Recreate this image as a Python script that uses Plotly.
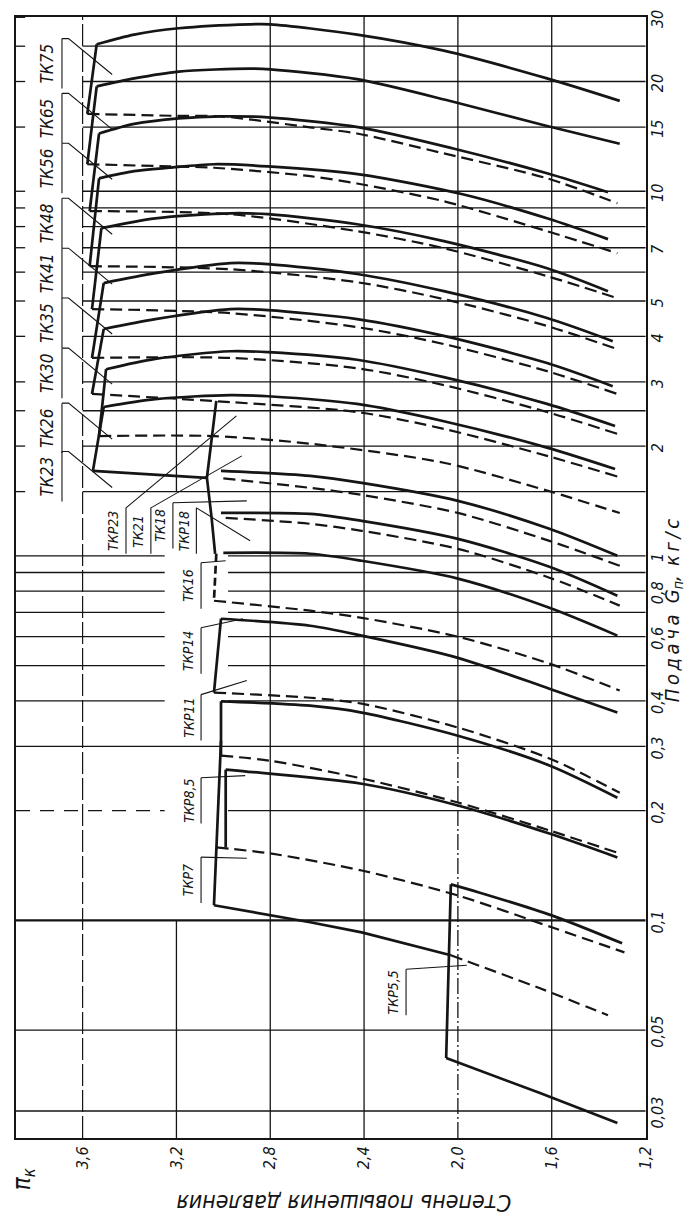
import math
import plotly.graph_objects as go

FONT = "Liberation Sans Narrow, DejaVu Sans Condensed, Liberation Sans, DejaVu Sans, sans-serif"
INK = "#151515"

# ---------------- axes ----------------
PI_RANGE = [3.884, 1.198]
G_LOG_RANGE = [-1.597, 1.478]
G_BOTTOM = 10 ** G_LOG_RANGE[0]
G_TOP = 10 ** G_LOG_RANGE[1]
PI_LEFT = PI_RANGE[0]
PI_RIGHT = 1.2

pi_ticks = [3.6, 3.2, 2.8, 2.4, 2.0, 1.6, 1.2]
pi_ticktext = ["3,6", "3,2", "2,8", "2,4", "2,0", "1,6", "1,2"]
g_ticks = [0.03, 0.05, 0.1, 0.2, 0.3, 0.4, 0.6, 0.8, 1, 2, 3, 4, 5, 7, 10, 15, 20, 30]
g_ticktext = ["0,03", "0,05", "0,1", "0,2", "0,3", "0,4", "0,6", "0,8", "1",
              "2", "3", "4", "5", "7", "10", "15", "20", "30"]

# grid values
grid_upper_g = [25, 20, 15, 10, 9, 8, 7, 6, 5, 4, 3, 2.5, 2, 1.5]
grid_mid_g = [1, 0.9, 0.8, 0.7, 0.6, 0.5, 0.4]
grid_full_g = [0.3, 0.05, 0.03]
grid_main_g = [0.1]
grid_dashed_left_g = [0.2]
grid_pi_full = [2.8, 2.4, 1.6]
grid_pi_mixed = [2.0]

# ---------------- upper families (solid = max-flow line) ----------------
tk75_pi = [3.54, 3.38, 3.19, 2.89, 2.80, 2.43, 2.06, 1.62, 1.31]
tk75_g = [25.3, 26.9, 28.0, 28.7, 28.7, 26.9, 24.3, 20.4, 17.7]
tk65_pi = [3.54, 3.38, 3.19, 2.89, 2.80, 2.43, 2.02, 1.62, 1.31]
tk65_g = [19.4, 20.4, 21.3, 21.7, 21.6, 20.3, 17.6, 15.1, 13.5]
tk56_pi = [3.53, 3.38, 3.19, 3.01, 2.81, 2.42, 2.02, 1.62, 1.36]
tk56_g = [14.4, 15.3, 15.85, 16.05, 15.95, 14.97, 13.1, 11.2, 9.94]
tk48_pi = [3.53, 3.38, 3.23, 3.04, 2.81, 2.42, 1.98, 1.62, 1.36]
tk48_g = [10.85, 11.35, 11.6, 11.86, 11.7, 11.13, 9.81, 8.43, 7.39]
tk41_pi = [3.52, 3.29, 2.97, 2.81, 2.43, 2.06, 1.62, 1.36]
tk41_g = [7.92, 8.43, 8.7, 8.65, 8.12, 7.3, 6.15, 5.32]
tk35_pi = [3.51, 3.29, 2.97, 2.81, 2.43, 2.06, 1.62, 1.34]
tk35_g = [5.6, 5.96, 6.35, 6.31, 5.93, 5.32, 4.49, 3.88]
tk30_pi = [3.51, 3.29, 2.97, 2.81, 2.43, 2.06, 1.62, 1.34]
tk30_g = [4.19, 4.46, 4.75, 4.72, 4.46, 4.01, 3.38, 2.92]
tk26_pi = [3.50, 3.29, 2.97, 2.81, 2.43, 2.06, 1.62, 1.33]
tk26_g = [3.25, 3.47, 3.64, 3.62, 3.45, 3.09, 2.61, 2.27]
tk23_pi = [3.51, 3.29, 2.97, 2.81, 2.43, 2.06, 1.62, 1.33]
tk23_g = [2.56, 2.69, 2.76, 2.74, 2.61, 2.34, 1.98, 1.73]

# upper dashed lines
d75_pi = [3.58, 3.19, 3.01, 2.63, 2.43, 2.06, 1.62, 1.32]
d75_g = [16.3, 16.1, 16.05, 14.97, 14.4, 12.7, 10.85, 9.27]
d65_pi = [3.58, 3.23, 3.04, 2.63, 2.43, 2.06, 1.62, 1.32]
d65_g = [11.86, 11.7, 11.6, 11.0, 10.5, 9.39, 7.77, 6.76]
d56_pi = [3.57, 2.97, 2.43, 2.06, 1.62, 1.32]
d56_g = [8.82, 8.65, 7.77, 6.98, 5.85, 5.09]
d48_pi = [3.57, 2.97, 2.43, 2.06, 1.62, 1.32]
d48_g = [6.23, 6.11, 5.63, 5.06, 4.27, 3.69]
d41_pi = [3.56, 2.97, 2.43, 2.06, 1.62, 1.32]
d41_g = [4.75, 4.63, 4.24, 3.81, 3.21, 2.78]
d35_pi = [3.56, 2.97, 2.43, 2.06, 1.62, 1.32]
d35_g = [3.49, 3.49, 3.27, 2.94, 2.48, 2.16]
d30_pi = [3.56, 2.97, 2.43, 2.06, 1.62, 1.32]
d30_g = [2.78, 2.64, 2.48, 2.23, 1.88, 1.65]
d26_pi = [3.53, 3.04, 2.63, 2.06, 1.62, 1.31]
d26_g = [2.13, 2.13, 2.03, 1.80, 1.51, 1.31]

# upper surge lines
surge_up_pi_top = [3.54, 3.54, 3.53, 3.53, 3.52, 3.51, 3.51, 3.50, 3.51]
surge_up_pi_bot = [3.58, 3.58, 3.57, 3.57, 3.56, 3.56, 3.56, 3.53, 3.556]
surge_up_g_top = [25.3, 19.4, 14.4, 10.85, 7.92, 5.6, 4.19, 3.25, 2.56]
surge_up_g_bot = [16.3, 11.86, 8.82, 6.23, 4.75, 3.49, 2.78, 2.13, 1.71]

# TK23 lower edge and middle surge line
tk23_base_pi = [3.556, 3.07]
tk23_base_g = [1.71, 1.636]
m_surge1_pi = [3.03, 3.07, 3.05, 3.035]
m_surge1_g = [2.66, 1.636, 1.271, 1.013]
m_surge2_pi = [3.03, 3.04]          # dashed
m_surge2_g = [1.013, 0.753]
m_surge3_pi = [3.01, 3.04]
m_surge3_g = [0.672, 0.4215]
m_surge4_pi = [3.01, 3.01]
m_surge4_g = [0.399, 0.283]
m_surge5_pi = [2.99, 2.99]
m_surge5_g = [0.259, 0.1585]
m_surge6_pi = [3.01, 3.04]
m_surge6_g = [0.311, 0.110]

# middle families
ms1_pi = [3.01, 2.63, 2.41, 2.00, 1.61, 1.32]
ms1_g = [1.71, 1.656, 1.585, 1.415, 1.186, 1.0]
ms2_pi = [3.01, 2.63, 2.41, 2.00, 1.61, 1.32]
ms2_g = [1.311, 1.303, 1.247, 1.113, 0.933, 0.777]
ms3_pi = [3.00, 2.63, 2.41, 2.00, 1.61, 1.32]
ms3_g = [1.019, 1.013, 0.969, 0.866, 0.72, 0.604]
ms4_pi = [3.01, 2.63, 2.41, 2.00, 1.61, 1.32]
ms4_g = [0.672, 0.643, 0.604, 0.525, 0.432, 0.3715]
ms5_pi = [3.01, 2.63, 2.41, 2.00, 1.61, 1.32]
ms5_g = [0.399, 0.388, 0.3715, 0.321, 0.266, 0.217]
ms6_pi = [2.99, 2.90, 2.41, 2.00, 1.61, 1.32]
ms6_g = [0.259, 0.256, 0.237, 0.2066, 0.173, 0.1488]

md1_pi = [3.00, 2.63, 2.41, 2.00, 1.61, 1.31]
md1_g = [1.63, 1.536, 1.469, 1.311, 1.099, 0.939]
md2_pi = [2.99, 2.63, 2.41, 2.00, 1.61, 1.31]
md2_g = [1.271, 1.224, 1.171, 1.045, 0.871, 0.730]
md3_pi = [3.04, 2.63, 2.41, 2.00, 1.61, 1.31]
md3_g = [0.753, 0.707, 0.676, 0.600, 0.506, 0.427]
md4_pi = [3.04, 2.63, 2.41, 2.00, 1.61, 1.31]
md4_g = [0.4215, 0.408, 0.393, 0.338, 0.278, 0.224]
md5_pi = [3.01, 2.80, 2.41, 2.00, 1.61, 1.31]
md5_g = [0.283, 0.274, 0.245, 0.2105, 0.1765, 0.1526]
md6_pi = [3.03, 2.80, 2.41, 2.00, 1.60, 1.29]
md6_g = [0.1585, 0.1526, 0.137, 0.117, 0.0957, 0.0817]

# ТКР7 lower edge (solid, then dashed) and ТКР5,5
tkp7_base_pi = [3.04, 2.63, 2.41, 2.03]
tkp7_base_g = [0.110, 0.0988, 0.0927, 0.0802]
tkp7_ext_pi = [2.03, 1.65, 1.36]
tkp7_ext_g = [0.0802, 0.0651, 0.0549]
tkp55_top_pi = [2.03, 1.91, 1.60, 1.30]
tkp55_top_g = [0.1255, 0.1193, 0.1032, 0.0865]
tkp55_surge_pi = [2.03, 2.05]
tkp55_surge_g = [0.1255, 0.0419]
tkp55_base_pi = [2.05, 1.65, 1.32]
tkp55_base_g = [0.0419, 0.0336, 0.0278]

# labels
up_labels = ["ТК75", "ТК65", "ТК56", "ТК48", "ТК41", "ТК35", "ТК30", "ТК26", "ТК23"]
up_label_g = [22.4, 15.85, 11.56, 8.17, 5.96, 4.35, 3.17, 2.24, 1.65]
UP_LABEL_PI = 3.752

mid_labels = ["ТКР23", "ТК21", "ТК18", "ТКР18", "ТК16", "ТКР14", "ТКР11", "ТКР8,5", "ТКР7", "ТКР5,5"]
mid_label_pi = [3.47, 3.364, 3.27, 3.17, 3.15, 3.15, 3.15, 3.15, 3.15, 2.276]
mid_label_g = [1.171, 1.171, 1.21, 1.171, 0.828, 0.549, 0.36, 0.213, 0.129, 0.0635]
mid_target_pi = [2.944, 2.921, 2.90, 2.886, 2.99, 2.916, 2.90, 2.907, 2.90, 1.962]
mid_target_g = [2.42, 1.88, 1.415, 1.10, 0.969, 0.672, 0.455, 0.2495, 0.148, 0.0753]

x_title = "Степень повышения давления"
y_title_word = "Подача"
y_title_unit = "кг/с"

fig = go.Figure()


def add_line(xs, ys, width=2.6, dash=None, shape="spline", color=INK):
    fig.add_trace(go.Scatter(
        x=xs, y=ys, mode="lines", hoverinfo="skip", showlegend=False,
        line=dict(color=color, width=width, dash=dash, shape=shape,
                  smoothing=0.8 if shape == "spline" else None)))


def segs(pairs):
    xs, ys = [], []
    for (x0, x1, y0, y1) in pairs:
        xs += [x0, x1, None]
        ys += [y0, y1, None]
    return xs, ys


GRID_W = 1.3
# ---------- grid ----------
xs, ys = segs([(3.6, PI_RIGHT, g, g) for g in grid_upper_g])
add_line(xs, ys, GRID_W, shape="linear")
xs, ys = segs([(PI_LEFT, 3.845, g, g) for g in grid_upper_g + [30]])
add_line(xs, ys, GRID_W, shape="linear")
xs, ys = segs([(PI_LEFT, 3.25, g, g) for g in grid_mid_g] +
              [(2.98, PI_RIGHT, g, g) for g in grid_mid_g])
add_line(xs, ys, GRID_W, shape="linear")
xs, ys = segs([(PI_LEFT, PI_RIGHT, g, g) for g in grid_full_g])
add_line(xs, ys, GRID_W, shape="linear")
xs, ys = segs([(PI_LEFT, PI_RIGHT, g, g) for g in grid_main_g])
add_line(xs, ys, 2.2, shape="linear")
xs, ys = segs([(PI_LEFT, 3.25, g, g) for g in grid_dashed_left_g])
add_line(xs, ys, GRID_W, dash="14px,10px", shape="linear")
xs, ys = segs([(2.98, PI_RIGHT, g, g) for g in grid_dashed_left_g])
add_line(xs, ys, GRID_W, shape="linear")
xs, ys = segs([(p, p, G_BOTTOM, G_TOP) for p in grid_pi_full] +
              [(3.2, 3.2, G_BOTTOM, 0.1), (3.2, 3.2, 1.5, G_TOP)] +
              [(p, p, 0.3, G_TOP) for p in grid_pi_mixed])
add_line(xs, ys, GRID_W, shape="linear")
xs, ys = segs([(p, p, G_BOTTOM, 0.3) for p in grid_pi_mixed])
add_line(xs, ys, GRID_W, dash="16px,3px,2px,3px", shape="linear")
add_line([3.6, 3.6], [G_BOTTOM, G_TOP], 1.2, dash="22px,4px", shape="linear")

# ---------- curves ----------
SOLID_W = 2.7
DASH_W = 2.2
DASH = "12px,6px"
for px, gy in [(tk75_pi, tk75_g), (tk65_pi, tk65_g), (tk56_pi, tk56_g), (tk48_pi, tk48_g),
               (tk41_pi, tk41_g), (tk35_pi, tk35_g), (tk30_pi, tk30_g), (tk26_pi, tk26_g),
               (tk23_pi, tk23_g), (ms1_pi, ms1_g), (ms2_pi, ms2_g), (ms3_pi, ms3_g),
               (ms4_pi, ms4_g), (ms5_pi, ms5_g), (ms6_pi, ms6_g), (tkp55_top_pi, tkp55_top_g)]:
    add_line(px, gy, SOLID_W)

for px, gy in [(d75_pi, d75_g), (d65_pi, d65_g), (d56_pi, d56_g), (d48_pi, d48_g),
               (d41_pi, d41_g), (d35_pi, d35_g), (d30_pi, d30_g), (d26_pi, d26_g),
               (md1_pi, md1_g), (md2_pi, md2_g), (md3_pi, md3_g), (md4_pi, md4_g),
               (md5_pi, md5_g), (md6_pi, md6_g), (tkp7_ext_pi, tkp7_ext_g)]:
    add_line(px, gy, DASH_W, dash=DASH)

for i in range(len(surge_up_pi_top)):
    add_line([surge_up_pi_top[i], surge_up_pi_bot[i]], [surge_up_g_top[i], surge_up_g_bot[i]],
             SOLID_W, shape="linear")

for px, gy in [(tk23_base_pi, tk23_base_g), (m_surge1_pi, m_surge1_g), (m_surge3_pi, m_surge3_g),
               (m_surge4_pi, m_surge4_g), (m_surge5_pi, m_surge5_g), (m_surge6_pi, m_surge6_g),
               (tkp7_base_pi, tkp7_base_g), (tkp55_surge_pi, tkp55_surge_g),
               (tkp55_base_pi, tkp55_base_g)]:
    add_line(px, gy, SOLID_W, shape="linear")
add_line(m_surge2_pi, m_surge2_g, SOLID_W, dash="8px,4px", shape="linear")

# ---------- label brackets ----------
bx, by = [], []
for g in up_label_g:
    top, bot = g * 1.171, g / 1.171
    bx += [3.688, 3.688, None, 3.688, 3.66, 3.474, None]
    by += [bot, top, None, top, top, top / 1.255, None]
for p, g, tp, tg in zip(mid_label_pi, mid_label_g, mid_target_pi, mid_target_g):
    top, bot = g * 1.156, g / 1.156
    xb = p - 0.055
    bx += [xb, xb, None, xb, tp, None]
    by += [bot, top, None, top, tg, None]
add_line(bx, by, 1.1, shape="linear")

annotations = []
for t, g in zip(up_labels, up_label_g):
    annotations.append(dict(x=UP_LABEL_PI, y=math.log10(g), xref="x", yref="y",
                            xanchor="center", yanchor="middle",
                            text="<i>" + t + "</i>", textangle=-90, showarrow=False,
                            font=dict(size=17, family=FONT, color=INK)))
for t, p, g in zip(mid_labels, mid_label_pi, mid_label_g):
    annotations.append(dict(x=p, y=math.log10(g), xref="x", yref="y",
                            xanchor="center", yanchor="middle",
                            text="<i>" + t + "</i>", textangle=-90, showarrow=False,
                            font=dict(size=14, family=FONT, color=INK)))

THIN = "\u2009"
y_title = (THIN.join(y_title_word) + "  G<sub>п</sub>," + THIN + " " + THIN.join(y_title_unit))
annotations += [
    dict(x=1.043, y=0.47, xref="paper", yref="paper", textangle=-90, showarrow=False,
         xanchor="center", yanchor="middle",
         text="<i>" + y_title + "</i>", font=dict(size=20, family=FONT, color=INK)),
    dict(x=0.52, y=-0.058, xref="paper", yref="paper", textangle=180, showarrow=False,
         xanchor="center", yanchor="middle",
         text="<i>" + x_title + "</i>", font=dict(size=23, family=FONT, color=INK)),
    dict(x=0.011, y=-0.036, xref="paper", yref="paper", textangle=-90, showarrow=False,
         xanchor="center", yanchor="middle",
         text="<i>π<sub>к</sub></i>", font=dict(size=24, family=FONT, color=INK)),
]

# the html page adds an 8px body margin, so the figure is drawn 8px smaller
fig.update_layout(
    template="none",
    width=685, height=1214,
    margin=dict(l=8, r=47, t=9, b=84, autoexpand=False),
    paper_bgcolor="white", plot_bgcolor="white",
    showlegend=False,
    font=dict(family=FONT, color=INK),
    annotations=annotations,
    xaxis=dict(range=PI_RANGE, tickvals=pi_ticks,
               ticktext=["<i>" + t + "</i>" for t in pi_ticktext],
               tickangle=-90, showgrid=False, zeroline=False, automargin=False,
               showline=True, mirror=True, linecolor=INK, linewidth=2,
               ticklabeloverflow="allow",
               ticks="", tickfont=dict(size=16, family=FONT, color=INK)),
    yaxis=dict(type="log", range=G_LOG_RANGE, side="right", tickvals=g_ticks,
               ticktext=["<i>" + t + "</i>" for t in g_ticktext],
               tickangle=-90, showgrid=False, zeroline=False, automargin=False,
               showline=True, mirror=True, linecolor=INK, linewidth=2,
               ticklabelstandoff=-4, ticklabelshift=4, ticklabeloverflow="allow",
               ticks="", tickfont=dict(size=16, family=FONT, color=INK)),
)

fig.write_html("out.html")
